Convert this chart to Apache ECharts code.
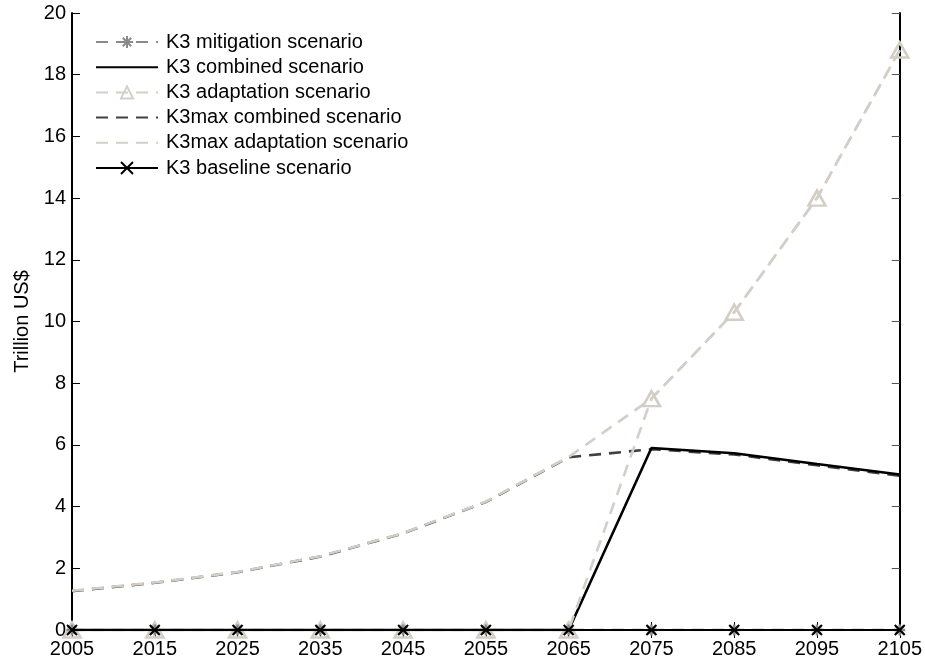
<!DOCTYPE html>
<html>
<head>
<meta charset="utf-8">
<script src="https://cdn.jsdelivr.net/npm/echarts@6/dist/echarts.min.js"></script>
<style>
  html, body { margin: 0; padding: 0; background: #fff; }
  #chart { width: 925px; height: 660px; }
</style>
</head>
<body>
<div id="chart"></div>
<script>
// Years on the horizontal axis
const years = ['2005', '2015', '2025', '2035', '2045', '2055', '2065', '2075', '2085', '2095', '2105'];

// Scenario costs, trillion US$
const k3Mitigation     = [0, 0, 0, 0, 0, 0, 0, 0, 0, 0, 0];
const k3Combined       = [0, 0, 0, 0, 0, 0, 0, 5.90, 5.73, 5.38, 5.04];
const k3Adaptation     = [0, 0, 0, 0, 0, 0, 0, 7.50, 10.30, 14.00, 18.80];
const k3maxCombined    = [1.26, 1.53, 1.87, 2.38, 3.13, 4.15, 5.60, 5.86, 5.69, 5.34, 5.00];
const k3maxAdaptation  = [1.27, 1.54, 1.88, 2.39, 3.14, 4.16, 5.61, 7.50, 10.30, 14.00, 18.80];
const k3Baseline       = [0, 0, 0, 0, 0, 0, 0, 0, 0, 0, 0];

// Y axis range
const yMin = 0, yMax = 20, yStep = 2;

const FONT = 'Liberation Sans';
const LIGHT = '#d3cfc7';
const MID = '#8a8a8a';
const DARK = '#404040';
const CLEAR = 'rgba(255,255,255,0)';

const asterisk = 'path://M5,0L5,10M0,5L10,5M1.5,1.5L8.5,8.5M8.5,1.5L1.5,8.5';
const cross = 'path://M0,0L10,10M10,0L0,10';

const chart = echarts.init(document.getElementById('chart'), null, { renderer: 'canvas' });

const axisBase = {
  axisLine: { show: true, lineStyle: { color: '#000', width: 2 } },
  axisTick: { show: true, inside: true, length: 8, lineStyle: { color: '#000', width: 1 } },
  splitLine: { show: false }
};

chart.setOption({
  animation: false,
  backgroundColor: '#fff',
  grid: { left: 72, right: 25, top: 13, bottom: 30, containLabel: false },
  legend: {
    orient: 'vertical',
    left: 90,
    top: 27,
    itemWidth: 62,
    itemHeight: 15,
    itemGap: 5.2,
    textStyle: { fontFamily: FONT, fontSize: 20, color: '#000', padding: [0, 0, 0, 3] },
    data: [
      'K3 mitigation scenario',
      'K3 combined scenario',
      'K3 adaptation scenario',
      'K3max combined scenario',
      'K3max adaptation scenario',
      'K3 baseline scenario'
    ]
  },
  xAxis: [
    Object.assign({}, axisBase, {
      type: 'category',
      data: years,
      boundaryGap: false,
      position: 'bottom',
      axisTick: { show: true, inside: true, length: 8, alignWithLabel: true, interval: 0, lineStyle: { color: '#000', width: 1 } },
      axisLabel: { interval: 0, margin: 9, fontFamily: FONT, fontSize: 20, color: '#000' }
    }),
    Object.assign({}, axisBase, {
      type: 'category',
      data: years,
      boundaryGap: false,
      position: 'top',
      axisLine: { show: true, lineStyle: { color: '#000', width: 1.5 } },
      axisTick: { show: true, inside: true, length: 8, interval: 0, lineStyle: { color: '#000', width: 1 } },
      axisLabel: { show: false }
    })
  ],
  yAxis: [
    Object.assign({}, axisBase, {
      type: 'value',
      min: yMin, max: yMax, interval: yStep,
      position: 'left',
      name: 'Trillion US$',
      nameLocation: 'middle',
      nameGap: 40,
      nameTextStyle: { fontFamily: FONT, fontSize: 20, color: '#000' },
      axisLabel: { margin: 6, fontFamily: FONT, fontSize: 20, color: '#000' }
    }),
    Object.assign({}, axisBase, {
      type: 'value',
      min: yMin, max: yMax, interval: yStep,
      position: 'right',
      axisTick: { show: true, inside: true, length: 8, lineStyle: { color: '#555', width: 1 } },
      axisLabel: { show: false }
    })
  ],
  series: [
    {
      name: 'K3max combined scenario',
      type: 'line',
      data: k3maxCombined,
      symbol: 'circle',
      showSymbol: false,
      z: 2,
      lineStyle: { color: DARK, width: 2.6, type: [12, 8] },
      itemStyle: { color: CLEAR, borderWidth: 0 }
    },
    {
      name: 'K3max adaptation scenario',
      type: 'line',
      data: k3maxAdaptation,
      symbol: 'circle',
      showSymbol: false,
      z: 3,
      lineStyle: { color: LIGHT, width: 2.6, type: [12, 8] },
      itemStyle: { color: CLEAR, borderWidth: 0 }
    },
    {
      name: 'K3 combined scenario',
      type: 'line',
      data: k3Combined,
      symbol: 'circle',
      showSymbol: false,
      z: 4,
      lineStyle: { color: '#000', width: 2.6, type: 'solid' },
      itemStyle: { color: CLEAR, borderWidth: 0 }
    },
    {
      name: 'K3 adaptation scenario',
      type: 'line',
      data: k3Adaptation,
      symbol: 'triangle',
      symbolSize: [17, 15],
      showAllSymbol: true,
      z: 5,
      lineStyle: { color: LIGHT, width: 2.6, type: [12, 8] },
      itemStyle: { color: CLEAR, borderColor: LIGHT, borderWidth: 2.6 }
    },
    {
      name: 'K3 mitigation scenario',
      type: 'line',
      data: k3Mitigation,
      symbol: asterisk,
      symbolSize: 11,
      showAllSymbol: true,
      z: 6,
      lineStyle: { color: MID, width: 2.6, type: [12, 8] },
      itemStyle: { color: MID, borderColor: MID, borderWidth: 2.5 }
    },
    {
      name: 'K3 baseline scenario',
      type: 'line',
      data: k3Baseline,
      symbol: cross,
      symbolSize: 10,
      showAllSymbol: true,
      z: 7,
      lineStyle: { color: '#000', width: 2, type: 'solid' },
      itemStyle: { color: '#000', borderColor: '#000', borderWidth: 2 }
    }
  ]
});
</script>
</body>
</html>
